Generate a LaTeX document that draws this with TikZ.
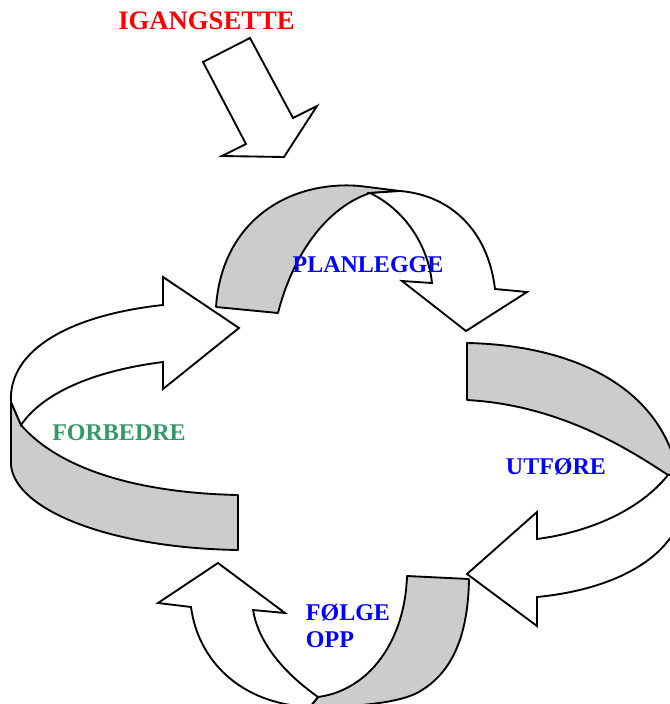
\documentclass[tikz,border=0pt]{standalone}
\usepackage{fontspec}
\setmainfont{Liberation Serif}
\definecolor{seagreen}{RGB}{51,153,102}

\tikzset{every picture/.style={line width=1.4pt}}
\tikzset{
  band/.style={draw=black, fill={rgb, 255:red, 204; green, 204; blue, 204}, line join=round},
  flat/.style={draw=black, fill=white, line join=miter},
  steplabel/.style={font=\fontsize{18}{20.5}\selectfont\bfseries, inner sep=0pt}
}

\begin{document}
\begin{tikzpicture}[x=0.75pt,y=0.75pt,yscale=-1,xscale=1]
	\clip (0,0) rectangle (670,704); %set diagram 670 wide, 704 high

	%Shape: Block Arc start [id:start]
	\draw [flat] (250,38) -- (203,62) -- (246,144) -- (222,156) -- (284,157) -- (317,106) -- (293,118) -- cycle ;

	%Shape: Curved Arrow back, planlegge [id:planback]
	\draw [band] (216,307) .. controls (222,220) and (290,180) .. (360,186) -- (400,191) -- (370,193) .. controls (320,210) and (290,265) .. (278,313) -- cycle ;
	%Shape: Curved Arrow front, planlegge [id:planfront]
	\draw [flat] (370,193) .. controls (405,210) and (428,245) .. (432,283) -- (402,281) -- (466,331) -- (527,292) -- (495,289) .. controls (488,230) and (450,195) .. (400,191) -- cycle ;

	%Shape: Curved Arrow back, utfore [id:utback]
	\draw [band] (467,343) .. controls (570,345) and (660,385) .. (678,474) -- (668,475) .. controls (630,450) and (560,405) .. (467,400) -- cycle ;
	%Shape: Curved Arrow front, utfore [id:utfront]
	\draw [flat] (668,475) .. controls (640,510) and (590,532) .. (537,539) -- (537,512) -- (467,574) -- (537,626) -- (537,597) .. controls (610,590) and (675,560) .. (684,505) -- (678,474) -- cycle ;

	%Shape: Curved Arrow back, folge opp [id:folgeback]
	\draw [band] (407,576) -- (469,579) .. controls (468,640) and (450,675) .. (417,693) .. controls (395,704) and (350,707) .. (310,707) -- (318,697) .. controls (370,690) and (405,640) .. (407,576) -- cycle ;
	%Shape: Curved Arrow front, folge opp [id:folgefront]
	\draw [flat] (318,697) .. controls (280,670) and (258,640) .. (253,610) -- (285,613) -- (218,563) -- (158,603) -- (191,607) .. controls (198,660) and (240,704) .. (310,707) -- cycle ;

	%Shape: Curved Arrow back, forbedre [id:forback]
	\draw [band] (11,402) -- (11,465) .. controls (15,510) and (110,548) .. (238,550) -- (238,495) .. controls (140,493) and (60,470) .. (21,425) -- cycle ;
	%Shape: Curved Arrow front, forbedre [id:forfront]
	\draw [flat] (11,402) .. controls (8,350) and (70,315) .. (163,305) -- (163,277) -- (239,328) -- (163,389) -- (163,362) .. controls (100,370) and (45,390) .. (21,425) -- cycle ;

	% Text Node
	\draw (206.5,21) node (igangsette) [steplabel, font=\fontsize{20}{24}\selectfont\bfseries, text=red] {IGANGSETTE};
	% Text Node
	\draw (368,265) node (planlegge) [steplabel, text=blue] {PLANLEGGE};
	% Text Node
	\draw (556,467) node (utfore) [steplabel, text=blue] {UTFØRE};
	% Text Node
	\draw (305,626) node (folgeopp) [steplabel, text=blue, anchor=west, align=left] {FØLGE\\OPP};
	% Text Node
	\draw (119,433) node (forbedre) [steplabel, text=seagreen] {FORBEDRE};

\end{tikzpicture}
\end{document}
